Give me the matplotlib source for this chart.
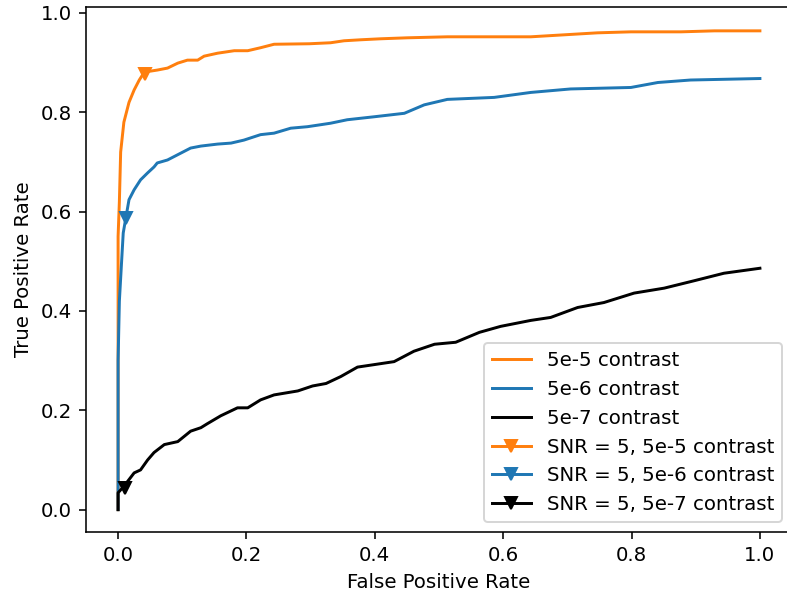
import numpy as np
import matplotlib
matplotlib.use("Agg")
import matplotlib.pyplot as plt

# ROC curves
fpr_5e5 = [0, 0, 0.002, 0.004, 0.009, 0.017, 0.025, 0.033, 0.041, 0.061, 0.077, 0.093,
           0.108, 0.124, 0.134, 0.155, 0.181, 0.202, 0.222, 0.243, 0.298, 0.331, 0.352,
           0.378, 0.409, 0.451, 0.513, 0.643, 0.695, 0.747, 0.799, 0.877, 0.929, 1.0]
tpr_5e5 = [0, 0.55, 0.62, 0.72, 0.78, 0.82, 0.845, 0.865, 0.881, 0.885, 0.889, 0.899,
           0.905, 0.905, 0.913, 0.919, 0.924, 0.924, 0.930, 0.937, 0.938, 0.940, 0.944,
           0.946, 0.948, 0.950, 0.952, 0.952, 0.956, 0.960, 0.962, 0.962, 0.964, 0.964]

fpr_5e6 = [0, 0, 0.002, 0.005, 0.008, 0.012, 0.017, 0.025, 0.035, 0.046, 0.056, 0.061,
           0.077, 0.098, 0.113, 0.129, 0.155, 0.176, 0.196, 0.222, 0.243, 0.269, 0.295,
           0.331, 0.357, 0.399, 0.446, 0.477, 0.513, 0.586, 0.643, 0.705, 0.799, 0.841,
           0.892, 1.0]
tpr_5e6 = [0, 0.30, 0.42, 0.489, 0.557, 0.587, 0.624, 0.644, 0.664, 0.678, 0.690, 0.698,
           0.704, 0.718, 0.728, 0.732, 0.736, 0.738, 0.744, 0.755, 0.758, 0.768, 0.771,
           0.778, 0.785, 0.791, 0.798, 0.815, 0.826, 0.830, 0.840, 0.847, 0.850, 0.860,
           0.865, 0.868]

fpr_5e7 = [0, 0, 0.009, 0.025, 0.035, 0.046, 0.056, 0.072, 0.093, 0.113, 0.129, 0.139,
           0.160, 0.186, 0.202, 0.222, 0.243, 0.280, 0.303, 0.324, 0.347, 0.373, 0.399,
           0.430, 0.461, 0.493, 0.526, 0.563, 0.596, 0.643, 0.674, 0.716, 0.757, 0.804,
           0.851, 0.898, 0.944, 1.0]
tpr_5e7 = [0, 0.034, 0.047, 0.074, 0.080, 0.100, 0.115, 0.131, 0.137, 0.158, 0.165, 0.173,
           0.189, 0.205, 0.205, 0.221, 0.231, 0.239, 0.249, 0.254, 0.268, 0.287, 0.292,
           0.298, 0.319, 0.333, 0.337, 0.357, 0.369, 0.381, 0.387, 0.407, 0.417, 0.436,
           0.446, 0.461, 0.476, 0.486]

# SNR = 5 operating points
snr_fpr = [0.042, 0.012, 0.010]
snr_tpr = [0.877, 0.587, 0.044]

labels = ["5e-5 contrast", "5e-6 contrast", "5e-7 contrast"]
colors = ["#ff7f0e", "#1f77b4", "k"]

dpi = 142
fig = plt.figure(figsize=(787 / dpi, 594 / dpi), dpi=dpi)
ax = fig.add_axes([86 / 787, 62 / 594, 706 / 787, 525 / 594])

curves = [(fpr_5e5, tpr_5e5), (fpr_5e6, tpr_5e6), (fpr_5e7, tpr_5e7)]
for (f, t), lab, c in zip(curves, labels, colors):
    ax.plot(f, t, color=c, label=lab)

for i in range(3):
    ax.plot([snr_fpr[i]], [snr_tpr[i]], marker="v", color=colors[i],
            label="SNR = 5, " + labels[i])

ax.set_xlim(-0.05, 1.05)
ax.set_ylim(-0.045, 1.012)
ax.set_xlabel("False Positive Rate")
ax.set_ylabel("True Positive Rate")
ax.legend(loc="lower right")

fig.savefig("out.png", dpi=dpi)
